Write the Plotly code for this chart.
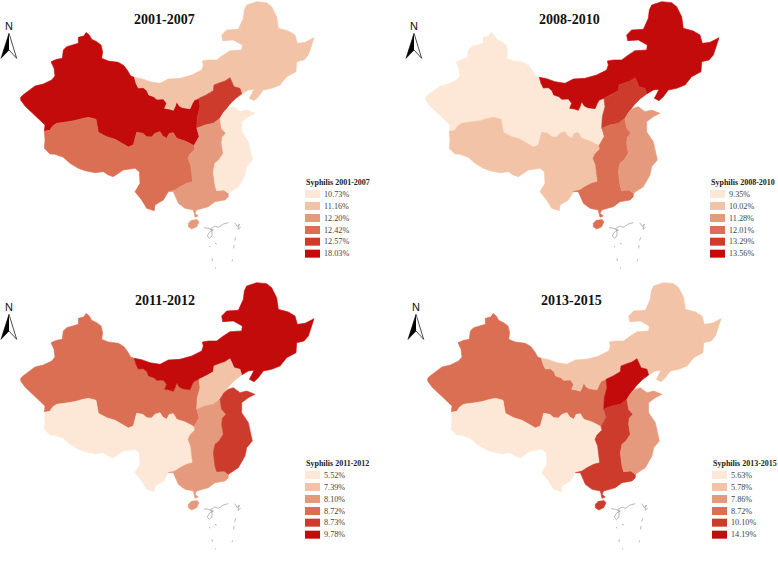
"""Syphilis share by region of China, four periods, small multiples."""
import plotly.graph_objects as go

W, H = 778, 569
PANEL_W, PANEL_H = 371, 284
PANEL_X = [0, 405, 0, 407]
PANEL_Y = [0, 0, 281, 281]

PERIODS = ["2001-2007", "2008-2010", "2011-2012", "2013-2015"]
STEPS = ["#fde8d7", "#f2c3a6", "#e59a7d", "#da6f53", "#cc3b2c", "#c30b0b"]

LEGEND_VALUES = [
    ["10.73%", "11.16%", "12.20%", "12.42%", "12.57%", "18.03%"],
    ["9.35%", "10.02%", "11.28%", "12.01%", "13.29%", "13.56%"],
    ["5.52%", "7.39%", "8.10%", "8.72%", "8.73%", "9.78%"],
    ["5.63%", "5.78%", "7.86%", "8.72%", "10.10%", "14.19%"],
]

# step index of each region, per period
NORTHWEST_STEP = [5, 0, 3, 3]
NORTHEAST_STEP = [1, 5, 5, 1]
NORTH_STEP = [4, 4, 1, 5]
SOUTHWEST_STEP = [3, 1, 0, 0]
CENTRAL_STEP = [2, 3, 2, 4]
EAST_STEP = [0, 2, 4, 2]

# outlines, at 3x its pixels
NW_N_BORDER = [(403, 232), (408, 250), (415, 264), (430, 263), (441, 272), (446, 285), (462, 290), (470, 298),
               (490, 297), (500, 310), (494, 325), (508, 327), (520, 331), (526, 318), (530, 305), (538, 318),
               (548, 323), (570, 326), (577, 310), (583, 300), (597, 295)]
N_W_BORDER = [(597, 295), (600, 320), (592, 350), (590, 385)]
NW_SW_BORDER = [(582, 437), (570, 430), (555, 423), (530, 415), (520, 398), (508, 400), (500, 415), (488, 408),
                (480, 395), (465, 400), (455, 411), (440, 410), (428, 400), (410, 397), (404, 418), (400, 435),
                (385, 441), (370, 432), (345, 418), (320, 410), (295, 397), (291, 375), (288, 358), (265, 352),
                (245, 356), (225, 362), (205, 365), (170, 370), (158, 378), (150, 390), (133, 393)]
N_E_BORDER = [(597, 295), (618, 285), (640, 272), (642, 255), (660, 248), (675, 243), (690, 233), (697, 248),
              (702, 260), (720, 265), (725, 282)]
N_S_BORDER = [(725, 282), (705, 297), (690, 312), (672, 335), (660, 355), (640, 370), (615, 375), (590, 385)]
C_SW_BORDER = [(582, 437), (585, 447), (570, 462), (564, 475), (572, 495), (576, 520), (578, 545), (560, 550),
               (540, 560), (525, 570), (505, 575)]
C_E_BORDER = [(660, 355), (665, 385), (678, 400), (667, 412), (665, 430), (670, 460), (657, 480), (645, 490),
              (640, 515), (645, 555), (650, 572), (672, 570), (685, 580)]

NORTHWEST = [(258, 97), (268, 105), (275, 118), (290, 125), (303, 135), (308, 155), (305, 175), (325, 183),
             (355, 187), (372, 197), (385, 215), (392, 228)] + NW_N_BORDER + N_W_BORDER + [(597, 410)] + NW_SW_BORDER + [
             (135, 375), (115, 355), (95, 335), (75, 318), (62, 300), (62, 292), (70, 284), (90, 270), (105, 258),
             (130, 252), (155, 240), (165, 228), (162, 205), (153, 185), (170, 178), (187, 175), (190, 150),
             (200, 140), (235, 130), (235, 112), (250, 108)]
NORTHEAST = [(403, 232), (425, 236), (450, 245), (480, 250), (505, 237), (540, 235), (575, 225), (605, 210),
             (610, 195), (607, 183), (625, 180), (650, 180), (670, 165), (690, 152), (725, 150), (727, 135),
             (700, 120), (668, 122), (665, 105), (680, 90), (715, 88), (730, 55), (733, 30), (740, 15), (770, 5),
             (800, 8), (815, 20), (830, 50), (835, 85), (865, 93), (885, 105), (892, 130), (915, 127), (942, 113),
             (935, 135), (925, 165), (912, 180), (890, 185), (888, 215), (860, 230), (840, 255), (815, 265),
             (790, 270), (775, 290), (762, 302), (748, 295), (755, 282), (762, 268), (745, 270)] + N_E_BORDER[::-1] + NW_N_BORDER[::-1]
NORTH = N_E_BORDER + N_S_BORDER + N_W_BORDER[::-1]
SOUTHWEST = NW_SW_BORDER[::-1][1:] + C_SW_BORDER + [
             (490, 600), (465, 615), (463, 632), (440, 625), (425, 600), (405, 575), (420, 550), (418, 515),
             (405, 505), (370, 510), (340, 530), (325, 525), (310, 515), (285, 518), (255, 512), (235, 505),
             (210, 490), (190, 472), (165, 463), (150, 462), (133, 445), (135, 420), (133, 393)]
CENTRAL = [(590, 385), (615, 375), (640, 370), (660, 355)] + C_E_BORDER + [
           (685, 590), (675, 600), (645, 605), (625, 620), (590, 630), (585, 640), (595, 648), (585, 652), (580, 630),
           (555, 625), (535, 610), (520, 575)] + C_SW_BORDER[::-1] + [(597, 410)]
EAST = [(660, 355), (672, 335), (685, 325), (700, 320), (720, 335), (740, 330), (765, 340), (745, 350),
        (725, 365), (725, 395), (745, 425), (755, 465), (757, 480), (740, 500), (735, 525), (715, 560),
        (685, 580)] + C_E_BORDER[::-1]
HAINAN = [(590, 658), (597, 665), (590, 680), (575, 687), (565, 680), (565, 670), (575, 660)]

REGIONS = [
    ("Northwest", NORTHWEST, NORTHWEST_STEP),
    ("Northeast", NORTHEAST, NORTHEAST_STEP),
    ("North", NORTH, NORTH_STEP),
    ("Southwest", SOUTHWEST, SOUTHWEST_STEP),
    ("South central", CENTRAL, CENTRAL_STEP),
    ("Hainan", HAINAN, CENTRAL_STEP),
    ("East", EAST, EAST_STEP),
]

SCRIBBLE = [(612, 683), (625, 685), (640, 690), (628, 697), (622, 708), (628, 715), (636, 708), (636, 694),
            (632, 686), (645, 678), (655, 682), (670, 672), (685, 668)]
SCRIBBLE_2 = [(704, 668), (712, 680), (718, 672), (714, 688), (722, 682)]
DASHES = [[(628, 738), (630, 742)], [(645, 730), (650, 732)], [(702, 735), (701, 745)], [(707, 712), (704, 722)],
          [(636, 775), (637, 783)], [(698, 778), (696, 784)], [(645, 803), (648, 805)]]

ARROW_DARK = [(27, 100), (3, 175), (27, 150)]
ARROW_OPEN = [(27, 100), (50, 175), (27, 150)]

SWATCH_Y = [582, 618, 654, 690, 725, 761]

fig = go.Figure()
layout = {}


def xy(points):
    return [p[0] for p in points], [p[1] for p in points]


shapes = []
annotations = []
for i, period in enumerate(PERIODS):
    n = "" if i == 0 else str(i + 1)
    refs = dict(xaxis="x" + n, yaxis="y" + n)
    layout["xaxis" + n] = dict(
        domain=[PANEL_X[i] / W, (PANEL_X[i] + PANEL_W) / W], range=[0, PANEL_W * 3], visible=False, anchor="y" + n
    )
    layout["yaxis" + n] = dict(
        domain=[1 - (PANEL_Y[i] + PANEL_H) / H, 1 - PANEL_Y[i] / H], range=[PANEL_H * 3, 0], visible=False, anchor="x" + n
    )

    for name, outline, steps in REGIONS:
        x, y = xy(outline)
        color = STEPS[steps[i]]
        fig.add_trace(go.Scatter(x=x, y=y, mode="lines", fill="toself", fillcolor=color,
                                 line=dict(color=color, width=0.6), name=name, showlegend=False, **refs))

    for part in [SCRIBBLE, SCRIBBLE_2] + DASHES:
        x, y = xy(part)
        fig.add_trace(go.Scatter(x=x, y=y, mode="lines", line=dict(color="#8a8a8a", width=0.6),
                                 hoverinfo="skip", showlegend=False, **refs))

    x, y = xy(ARROW_DARK)
    fig.add_trace(go.Scatter(x=x, y=y, mode="lines", fill="toself", fillcolor="#000000",
                             line=dict(color="#000000", width=0.6), hoverinfo="skip", showlegend=False, **refs))
    x, y = xy(ARROW_OPEN)
    fig.add_trace(go.Scatter(x=x, y=y, mode="lines", line=dict(color="#000000", width=0.7),
                             hoverinfo="skip", showlegend=False, **refs))

    xref, yref = "x" + n, "y" + n
    annotations.append(dict(x=27, y=78, xref=xref, yref=yref, text="N", showarrow=False,
                            font=dict(family="Liberation Sans", size=11, color="#111111")))
    annotations.append(dict(x=494, y=58, xref=xref, yref=yref, text="<b>" + period + "</b>", showarrow=False,
                            font=dict(family="Liberation Serif", size=14, color="#111111")))
    annotations.append(dict(x=913, y=547, xref=xref, yref=yref, xanchor="left", showarrow=False,
                            text="<b>Syphilis " + period + "</b>",
                            font=dict(family="Liberation Serif", size=8, color="#222222")))
    for j, value in enumerate(LEGEND_VALUES[i]):
        shapes.append(dict(type="rect", xref=xref, yref=yref, x0=915, x1=960, y0=SWATCH_Y[j] - 12, y1=SWATCH_Y[j] + 12,
                           fillcolor=STEPS[j], line=dict(width=0)))
        annotations.append(dict(x=966, y=SWATCH_Y[j], xref=xref, yref=yref, xanchor="left", text=value, showarrow=False,
                                font=dict(family="Liberation Serif", size=8.2, color="#444444")))

fig.update_layout(
    width=W,
    height=H,
    margin=dict(l=0, r=0, t=0, b=0),
    paper_bgcolor="#ffffff",
    plot_bgcolor="#ffffff",
    shapes=shapes,
    annotations=annotations,
    **layout,
)
fig.write_html("out.html", config=dict(displayModeBar=False), post_script="document.body.style.margin='0';")
